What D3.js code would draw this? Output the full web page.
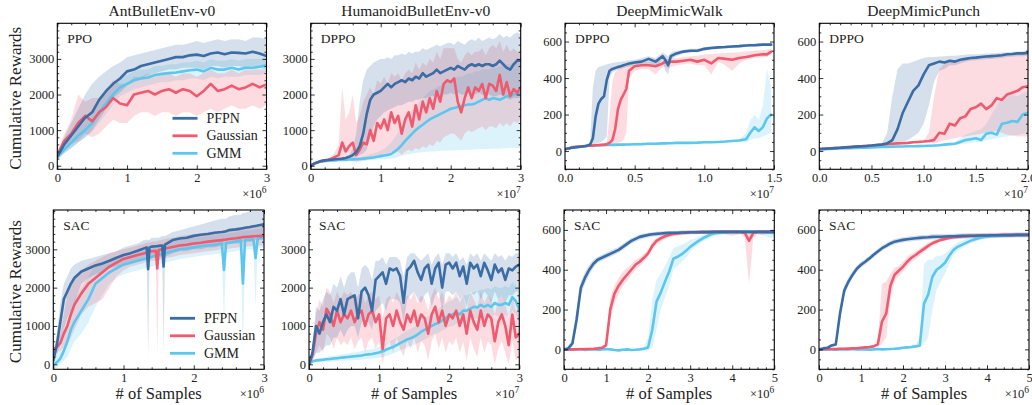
<!DOCTYPE html>
<html><head><meta charset="utf-8">
<script src="https://cdn.jsdelivr.net/npm/d3@7/dist/d3.min.js"></script>
<style>html,body{margin:0;padding:0;background:#fff;}svg{display:block;}</style>
</head><body>
<script>
// ---------------- DATA ----------------
const seriesNames = ["PFPN", "Gaussian", "GMM"];
const titles = ["AntBulletEnv-v0", "HumanoidBulletEnv-v0", "DeepMimicWalk", "DeepMimicPunch"];
const rowAlgos = [["PPO", "DPPO", "DPPO", "DPPO"], ["SAC", "SAC", "SAC", "SAC"]];
const bulletYTicks = [0, 1000, 2000, 3000];
const mimicYTicks = [0, 200, 400, 600];
const intXTicks3 = [0, 1, 2, 3];
const intXLabels3 = ["0", "1", "2", "3"];
const walkDppoXTicks = [0, 0.5, 1, 1.5];
const walkDppoXLabels = ["0.0", "0.5", "1.0", "1.5"];
const punchDppoXTicks = [0, 0.5, 1, 1.5, 2];
const punchDppoXLabels = ["0.0", "0.5", "1.0", "1.5", "2.0"];
const sacMimicXTicks = [0, 1, 2, 3, 4, 5];
const sacMimicXLabels = ["0", "1", "2", "3", "4", "5"];

// Ant PPO (x in 1e6)
const antPpoX = [0,0.1,0.2,0.3,0.4,0.5,0.6,0.7,0.8,0.9,1,1.1,1.2,1.3,1.4,1.5,1.6,1.7,1.8,1.9,2,2.1,2.2,2.3,2.4,2.5,2.6,2.7,2.8,2.9,3];
const antPpoPfpn = [250,600,850,1100,1350,1500,1850,2100,2300,2450,2650,2700,2800,2850,2900,2950,3000,3050,3050,3100,3120,3080,3150,3180,3130,3180,3170,3150,3200,3150,3080];
const antPpoPfpnLo = [150,350,500,650,800,1000,1300,1600,1900,2050,2250,2350,2450,2550,2600,2650,2700,2700,2750,2750,2750,2700,2800,2800,2750,2800,2800,2750,2800,2750,2700];
const antPpoPfpnHi = [350,800,1200,1600,2000,2300,2500,2650,2800,2900,3050,3100,3150,3200,3250,3300,3350,3400,3400,3450,3500,3450,3500,3550,3500,3550,3550,3500,3600,3600,3550];
const antPpoGauss = [300,700,900,1200,1400,1250,1500,1650,1900,1750,1700,2000,2050,2100,2000,2100,2150,2050,2150,2100,1950,2100,2300,2100,2150,2250,2150,2200,2300,2200,2280];
const antPpoGaussLo = [200,500,600,700,900,800,900,1100,1300,1200,1200,1400,1500,1500,1400,1500,1500,1400,1500,1500,1400,1500,1600,1500,1600,1700,1600,1600,1700,1600,1700];
const antPpoGaussHi = [400,900,1300,2000,1800,1900,1900,2100,2400,2300,2300,2500,2500,2600,2500,2600,2600,2500,2600,2600,2500,2600,2700,2600,2600,2700,2600,2700,2700,2700,2700];
const antPpoGmm = [250,450,650,850,1000,1200,1500,1750,2000,2200,2300,2400,2450,2480,2550,2580,2600,2620,2650,2680,2700,2650,2750,2700,2700,2750,2700,2750,2750,2780,2820];
const antPpoGmmLo = [200,350,500,650,800,950,1200,1450,1700,1950,2050,2150,2200,2250,2300,2350,2350,2400,2400,2450,2450,2400,2500,2450,2500,2500,2500,2550,2550,2550,2600];
const antPpoGmmHi = [300,550,800,1050,1250,1500,1800,2050,2300,2450,2550,2650,2700,2700,2800,2800,2850,2850,2900,2900,2950,2900,3000,2950,2950,3000,2950,3000,3000,3000,3050];

// Humanoid DPPO (x in 1e7)
const humX = [0,0.05,0.1,0.15,0.2,0.25,0.3,0.35,0.4,0.45,0.5,0.55,0.6,0.65,0.7,0.75,0.8,0.85,0.9,0.95,1,1.05,1.1,1.15,1.2,1.25,1.3,1.35,1.4,1.45,1.5,1.55,1.6,1.65,1.7,1.75,1.8,1.85,1.9,1.95,2,2.05,2.1,2.15,2.2,2.25,2.3,2.35,2.4,2.45,2.5,2.55,2.6,2.65,2.7,2.75,2.8,2.85,2.9,2.95,3];
const humDppoPfpn = [0,60,100,130,150,160,170,180,190,200,220,250,300,380,550,900,1450,1850,2000,2050,2100,2200,2300,2200,2300,2350,2400,2350,2450,2400,2500,2450,2600,2500,2550,2600,2700,2600,2650,2700,2750,2700,2800,2750,2700,2800,2850,2800,2850,2800,2850,2850,2800,2850,2950,2850,2750,2700,2850,2950,2950];
const humDppoPfpnLo = [0,40,80,110,130,140,150,160,170,180,190,200,220,250,300,350,450,800,1100,1300,1400,1500,1550,1600,1650,1700,1700,1750,1800,1800,1850,1850,1900,1900,1950,1950,2000,1950,2000,2000,2050,2000,2050,2000,2000,2050,2050,2000,2050,2000,2000,2000,1950,1950,2000,1950,1900,1850,1900,1900,1900];
const humDppoPfpnHi = [0,80,120,150,170,180,190,200,210,220,250,300,500,900,1800,2400,2700,2800,2900,2950,3000,3000,3050,3000,3100,3100,3150,3100,3200,3150,3200,3200,3300,3250,3300,3350,3400,3350,3400,3450,3450,3400,3500,3450,3400,3500,3550,3500,3600,3500,3550,3600,3550,3600,3700,3600,3650,3600,3700,3750,3700];
const humDppoGauss = [0,60,100,130,150,170,200,250,300,650,400,550,650,300,450,650,600,1000,700,1200,1050,1300,1000,1500,1200,1400,900,1300,1500,1100,1700,1300,1800,1500,1900,1600,2100,1800,2300,2400,2350,2450,1800,1500,1900,2200,1900,2200,2100,2300,1900,2300,2250,2100,2550,2000,2350,1950,2150,2050,2200];
const humDppoGaussLo = [0,40,80,110,130,140,150,150,180,200,100,150,120,100,120,150,150,250,200,300,250,350,300,400,350,400,300,400,450,400,500,450,550,500,600,550,700,650,800,850,900,900,800,700,900,1000,950,1000,1050,1100,1000,1100,1100,1050,1200,1100,1200,1100,1250,1200,1300];
const humDppoGaussHi = [0,80,120,150,170,200,250,400,600,2200,1300,1500,2000,1200,1400,1800,2000,2200,2000,2400,2300,2500,2300,2600,2500,2600,2400,2600,2700,2600,2900,2700,2900,2800,3000,2900,3200,3000,3300,3300,3300,3300,3000,2900,3100,3200,3100,3200,3200,3300,3100,3300,3400,3300,3500,3200,3400,3200,3300,3200,3200];
const humDppoGmm = [0,60,100,120,130,140,150,150,160,160,170,175,180,185,190,200,210,220,230,250,270,290,300,330,400,480,580,700,800,900,1000,1080,1150,1230,1300,1350,1400,1450,1500,1550,1600,1620,1650,1680,1700,1720,1720,1750,1800,1850,1900,1850,1900,1880,1850,1900,1950,1950,2000,2030,2050];
const humDppoGmmLo = [0,40,80,100,110,120,130,130,140,140,150,150,150,150,150,150,160,160,160,170,180,180,190,200,220,250,280,300,320,340,360,370,380,390,400,400,410,420,420,430,430,430,440,440,440,450,450,460,460,470,470,470,480,480,480,490,490,500,500,500,500];
const humDppoGmmHi = [0,80,120,140,150,160,170,170,180,190,200,210,220,230,240,260,290,320,350,380,420,480,560,650,800,950,1100,1250,1400,1550,1700,1800,1900,2000,2100,2150,2200,2250,2300,2350,2400,2450,2500,2500,2550,2600,2600,2650,2650,2700,2700,2700,2750,2750,2800,2800,2850,2850,2900,2900,2900];

// DeepMimicWalk DPPO (x in 1e7)
const walkDppoX = [0,0.05,0.1,0.15,0.18,0.2,0.22,0.24,0.26,0.28,0.3,0.32,0.34,0.36,0.38,0.4,0.42,0.44,0.46,0.5,0.55,0.6,0.65,0.7,0.72,0.74,0.76,0.8,0.85,0.9,0.95,1,1.05,1.1,1.15,1.2,1.25,1.3,1.33,1.36,1.39,1.42,1.45,1.48];
const walkDppoPfpn = [10,18,22,28,35,70,190,260,285,300,390,440,450,455,460,465,470,475,480,485,490,505,490,520,500,470,520,535,545,550,550,560,565,568,570,573,575,578,580,580,582,583,583,583];
const walkDppoPfpnLo = [5,12,17,24,30,35,40,45,50,60,80,400,430,440,445,450,455,460,462,465,470,480,460,500,440,420,500,520,535,540,542,550,556,560,562,565,567,570,572,572,574,575,575,575];
const walkDppoPfpnHi = [15,24,27,32,50,350,440,460,465,470,475,480,482,485,488,490,492,495,497,500,510,520,510,540,530,520,540,550,555,560,560,570,574,576,578,581,583,586,588,588,590,591,591,591];
const walkDppoGauss = [10,20,25,28,30,30,32,33,34,35,38,45,60,120,230,280,310,340,440,465,470,470,465,480,490,480,490,490,495,500,490,500,480,510,505,500,510,515,520,525,528,530,530,545];
const walkDppoGaussLo = [5,15,20,24,26,26,28,29,30,31,33,35,40,40,45,50,60,100,400,440,450,450,420,460,460,450,460,470,475,480,470,470,420,490,470,440,480,500,505,510,512,515,515,530];
const walkDppoGaussHi = [15,25,30,32,34,34,36,37,38,40,45,200,380,430,450,460,465,470,475,485,488,490,495,500,505,505,508,510,515,520,522,530,532,535,537,540,542,545,547,550,552,553,555,560];
const walkDppoGmm = [10,20,25,28,30,30,31,31,32,32,33,33,34,34,35,35,35,36,36,37,38,40,40,42,42,43,43,45,45,45,46,48,48,50,52,55,58,65,100,130,110,130,180,200];
const walkDppoGmmLo = [5,15,20,23,25,25,26,26,27,27,28,28,29,29,30,30,30,31,31,32,33,35,35,37,37,38,38,40,40,40,41,43,43,45,47,50,52,45,60,70,70,80,90,100];
const walkDppoGmmHi = [15,25,30,33,35,35,36,36,37,37,38,38,39,39,40,40,40,41,41,42,43,45,45,47,47,48,48,50,50,50,51,53,53,55,57,60,64,100,170,200,170,250,450,350];

// DeepMimicPunch DPPO (x in 1e7)
const punchDppoX = [0,0.05,0.1,0.15,0.2,0.25,0.3,0.35,0.4,0.45,0.5,0.55,0.6,0.65,0.7,0.75,0.8,0.85,0.9,0.95,1,1.05,1.1,1.15,1.2,1.25,1.3,1.35,1.4,1.45,1.5,1.55,1.6,1.65,1.7,1.75,1.8,1.85,1.9,1.95,2];
const punchDppoPfpn = [10,12,14,16,18,20,22,24,26,28,30,33,36,42,60,120,210,270,330,360,420,470,480,490,485,495,490,500,505,510,512,515,518,520,522,525,530,532,535,535,538];
const punchDppoPfpnLo = [7,9,11,13,15,17,19,21,23,25,27,30,33,35,40,45,50,60,80,100,150,250,380,440,450,470,470,480,490,495,497,500,503,505,507,510,515,517,520,520,523];
const punchDppoPfpnHi = [13,15,17,19,21,23,25,27,29,31,33,36,40,100,300,450,480,480,490,500,510,515,515,518,520,522,522,525,528,530,530,532,534,535,537,540,542,544,546,546,548];
const punchDppoGauss = [12,13,15,17,18,20,22,24,26,28,30,33,35,38,40,42,43,45,48,50,52,55,60,100,95,150,140,180,190,230,240,260,230,250,290,280,310,320,330,350,355];
const punchDppoGaussLo = [7,8,10,12,13,15,17,19,21,23,25,28,30,33,35,37,38,40,43,45,47,48,40,50,60,65,70,75,80,85,90,95,100,105,110,100,90,85,80,80,80];
const punchDppoGaussHi = [17,18,20,22,23,25,27,29,31,33,35,38,40,43,45,47,48,50,53,55,57,100,300,450,480,490,500,505,510,515,520,522,525,528,530,532,535,537,540,540,540];
const punchDppoGmm = [10,11,12,13,14,15,16,17,18,19,20,21,22,23,24,25,25,26,26,27,28,29,30,32,35,38,40,50,60,65,70,60,95,100,90,150,155,165,160,200,210];
const punchDppoGmmLo = [6,7,8,9,10,11,12,13,14,15,16,17,18,19,20,21,21,22,22,23,24,25,26,28,30,32,34,38,40,45,50,50,60,65,70,75,80,85,90,95,100];
const punchDppoGmmHi = [14,15,16,17,18,19,20,21,22,23,24,25,26,27,28,29,29,30,30,31,32,33,34,36,40,45,50,70,90,100,110,120,150,200,250,300,300,310,300,320,330];

// Ant SAC (x in 1e6)
const antSacX = [0,0.05,0.1,0.15,0.2,0.25,0.3,0.4,0.5,0.6,0.7,0.8,0.9,1,1.1,1.2,1.3,1.33,1.35,1.37,1.4,1.46,1.48,1.5,1.55,1.57,1.59,1.7,1.8,1.9,2,2.1,2.2,2.3,2.4,2.43,2.46,2.5,2.6,2.67,2.7,2.73,2.8,2.85,2.88,2.91,3];
const antSacPfpn = [100,500,1100,1700,1900,2100,2250,2420,2500,2580,2630,2700,2780,2850,2900,2960,3030,3050,2480,3050,3070,3080,3080,3090,3100,2550,3120,3240,3280,3300,3350,3380,3400,3430,3450,3460,3470,3500,3520,3540,3550,3560,3580,3600,3610,3620,3650];
const antSacPfpnLo = [0,200,500,900,1200,1400,1600,2100,2250,2350,2400,2500,2550,2600,2650,2700,2750,2750,200,2750,2800,2800,2800,2800,2800,300,2800,2900,2950,2950,3000,3000,3050,3050,3100,3100,3100,3150,3150,3150,3200,3200,3200,3200,3250,3250,3250];
const antSacPfpnHi = [200,800,1600,2100,2300,2500,2600,2700,2750,2800,2850,2900,2950,3050,3100,3150,3250,3250,3250,3250,3300,3300,3300,3300,3350,3350,3350,3450,3500,3550,3600,3650,3700,3750,3800,3800,3800,3850,3900,3900,3950,3950,4000,4000,4000,4000,4000];
const antSacGauss = [400,450,550,800,1000,1300,1550,1850,2100,2250,2400,2550,2650,2750,2800,2850,2900,2920,2930,2940,2950,2960,2500,2980,3000,3010,3020,3060,3100,3120,3150,3170,3200,3220,3240,3250,3255,3270,3290,3310,3320,3320,3330,3340,3340,3345,3350];
const antSacGaussLo = [300,300,350,450,500,700,900,1300,1500,1600,1700,2000,2300,2450,2550,2600,2650,2670,2680,2690,2700,2700,200,2720,2750,2760,2770,2800,2850,2870,2900,2920,2950,2970,3000,3000,3000,3020,3040,3060,3070,3070,3080,3090,3090,3100,3100];
const antSacGaussHi = [500,600,800,1300,1800,2100,2300,2450,2600,2700,2800,2900,2950,3000,3050,3100,3150,3170,3180,3190,3200,3210,3210,3230,3250,3260,3270,3300,3350,3370,3400,3420,3450,3470,3480,3490,3500,3520,3540,3560,3570,3570,3580,3590,3590,3600,3600];
const antSacGmm = [0,50,150,350,600,900,1100,1400,1700,2100,2250,2400,2500,2600,2650,2700,2750,2760,2770,2780,2800,2830,2840,2850,2880,2890,2900,2950,3000,3020,3050,3080,3100,3120,3150,2460,3160,3170,3200,3230,2110,3240,3250,3260,2770,3280,3300];
const antSacGmmLo = [-100,-100,0,100,200,400,600,800,1100,1500,1800,2100,2250,2350,2400,2450,2500,2510,2520,2530,2550,2580,2590,2600,2630,2640,2650,2700,2750,2770,2800,2830,2850,2870,2900,1000,2910,2920,2950,2980,300,2990,3000,3010,1500,3030,3050];
const antSacGmmHi = [100,200,400,700,1100,1400,1700,2000,2300,2600,2600,2650,2750,2850,2900,2950,3000,3010,3020,3030,3050,3080,3090,3100,3130,3140,3150,3200,3250,3270,3300,3330,3350,3370,3400,3400,3410,3420,3450,3480,3480,3490,3500,3510,3510,3530,3550];

// Humanoid SAC (x in 1e7, same grid as humX)
const humSacPfpn = [0,300,1000,800,1100,1300,1100,1500,1400,1700,1300,1700,1750,1800,1200,1900,2000,1800,1400,2200,2300,2400,2100,2500,2450,2500,2300,1600,2450,2550,2700,2400,2200,2500,2600,2100,2500,2650,2000,2600,2650,2500,2650,2300,2550,2100,2650,2500,2600,2300,2650,2450,2200,2600,2400,2500,2200,2500,2450,2550,2600];
const humSacPfpnLo = [0,100,300,300,400,500,500,700,700,900,700,900,1000,1000,700,1100,1200,1100,900,1400,1500,1600,1400,1700,1700,1700,1600,1100,1700,1800,1900,1700,1600,1800,1900,1500,1800,1900,1400,1900,1900,1800,1900,1700,1800,1500,1900,1800,1900,1700,1900,1800,1600,1900,1700,1800,1600,1800,1800,1900,1900];
const humSacPfpnHi = [0,500,1500,1400,1700,1900,1800,2100,2000,2300,2000,2300,2400,2400,2000,2500,2600,2500,2200,2700,2700,2800,2600,2800,2800,2800,2700,2300,2800,2900,2900,2800,2700,2800,2900,2600,2800,2900,2600,2900,2900,2800,2900,2700,2800,2600,2900,2800,2900,2700,2900,2800,2700,2900,2800,2850,2700,2850,2800,2900,2900];
const humSacGauss = [0,250,800,1100,900,1450,1300,1000,1400,1100,1300,1200,1400,1100,1300,1400,1000,1300,1400,1100,1300,400,1200,1300,1000,1400,1100,900,1300,1100,1400,1000,1300,1200,800,1300,1500,1100,1400,1000,1300,1200,1400,1000,1300,800,1400,1100,900,1400,1000,1300,1200,600,1100,1300,1000,500,1300,700,800];
const humSacGaussLo = [0,100,300,500,300,800,700,400,700,500,600,500,700,400,600,700,300,600,700,400,600,0,500,600,300,700,400,200,600,400,700,300,600,500,100,600,800,400,700,300,600,500,700,300,600,100,700,400,200,700,300,600,500,0,400,600,300,0,600,100,200];
const humSacGaussHi = [0,400,1300,1700,1500,2000,1900,1600,1900,1700,1900,1800,1900,1700,1800,1900,1600,1800,1900,1700,1800,1200,1700,1800,1600,1900,1700,1500,1800,1700,1900,1600,1800,1700,1400,1800,2000,1700,1900,1600,1800,1700,1900,1600,1800,1400,1900,1700,1500,1900,1600,1800,1700,1300,1700,1800,1600,1200,1800,1400,1500];
const humSacGmm = [0,80,100,110,120,130,140,150,160,170,180,190,200,210,220,230,250,260,270,290,310,340,380,420,450,500,550,600,650,680,720,780,850,900,950,1000,1050,1080,1150,1200,1280,1300,1350,1300,1400,1400,1450,1500,1480,1550,1500,1550,1500,1600,1550,1550,1600,1550,1750,1650,1420];
const humSacGmmLo = [0,40,50,60,60,70,70,80,80,90,90,100,100,110,110,120,130,140,150,160,170,190,220,250,280,320,360,400,440,470,500,550,600,650,700,750,800,820,880,920,980,1000,1050,1000,1100,1100,1150,1200,1180,1250,1200,1250,1200,1300,1250,1250,1300,1250,1400,1300,1100];
const humSacGmmHi = [0,120,150,160,180,190,210,220,240,250,270,280,300,310,330,340,370,380,400,420,450,490,540,600,650,700,760,820,880,920,980,1050,1130,1200,1260,1330,1400,1450,1520,1580,1650,1680,1750,1700,1800,1800,1850,1900,1900,1950,1950,2000,1950,2050,2000,2000,2050,2000,2150,2050,1850];

// SAC DeepMimic (x in 1e6)
const sacMimicX = [0,0.1,0.2,0.3,0.4,0.5,0.6,0.7,0.8,0.9,1,1.1,1.2,1.3,1.4,1.5,1.6,1.7,1.8,1.9,2,2.1,2.2,2.3,2.4,2.5,2.6,2.7,2.8,2.9,3,3.1,3.2,3.3,3.4,3.5,3.6,3.7,3.8,3.9,4,4.1,4.2,4.3,4.4,4.5,4.6,4.7,4.8,4.9,5];
const walkSacPfpn = [0,5,30,150,310,360,400,430,450,460,470,480,490,500,515,530,545,555,565,570,575,578,580,582,584,585,586,586,587,587,588,588,588,589,589,589,590,590,590,590,590,590,590,590,590,590,590,590,590,590,590];
const walkSacPfpnLo = [-5,0,15,110,270,330,375,410,435,445,455,465,475,485,500,515,530,540,550,557,562,566,568,571,573,575,576,576,577,577,578,578,578,579,579,579,580,580,580,580,580,580,580,580,580,580,580,580,580,580,580];
const walkSacPfpnHi = [5,15,50,200,340,390,425,450,465,475,485,495,505,515,530,545,558,568,578,582,586,589,591,593,595,595,596,596,597,597,598,598,598,599,599,599,600,600,600,600,600,600,600,600,600,600,600,600,600,600,600];
const walkSacGauss = [0,0,0,1,1,2,2,3,5,8,20,200,280,320,350,375,400,425,440,460,482,520,545,558,568,575,580,582,585,586,588,588,589,589,589,590,590,590,590,590,590,590,590,585,545,585,590,590,590,590,590];
const walkSacGaussLo = [-5,-5,-5,-4,-4,-3,-3,-2,0,2,10,150,230,280,320,345,375,400,420,440,465,500,528,542,553,562,568,571,574,576,578,578,579,579,579,580,580,580,580,575,570,575,580,560,330,560,580,575,578,580,578];
const walkSacGaussHi = [5,5,5,6,6,7,7,8,10,15,35,260,320,360,390,410,425,450,460,480,500,540,560,572,582,588,592,594,596,597,598,598,599,599,599,600,600,600,600,600,600,600,600,600,600,600,600,600,600,600,600];
const walkSacGmm = [0,0,-2,0,2,-3,0,1,-2,0,2,0,-3,-5,-2,0,-3,-2,0,3,10,100,240,285,340,390,455,465,478,495,515,530,545,558,568,578,583,585,587,588,589,589,590,590,590,590,590,590,588,586,585];
const walkSacGmmLo = [-5,-5,-7,-5,-3,-8,-5,-4,-7,-5,-3,-5,-8,-10,-7,-5,-8,-7,-5,-5,-5,10,100,200,260,320,400,420,440,460,490,510,525,540,552,562,570,575,577,578,579,579,580,580,580,580,580,575,570,560,565];
const walkSacGmmHi = [5,5,3,5,7,2,5,6,3,5,7,5,2,0,3,5,2,3,5,15,60,250,350,380,420,460,510,515,525,535,550,555,565,575,582,590,595,597,598,599,599,599,600,600,600,600,600,600,598,596,595];
const punchSacPfpn = [0,5,8,20,25,180,295,340,375,405,425,440,457,475,492,508,520,532,541,546,550,553,556,558,560,562,563,565,566,566,567,568,568,569,570,570,571,571,572,572,572,573,573,573,574,574,574,575,575,575,575];
const punchSacPfpnLo = [-5,0,2,12,17,150,270,320,358,390,410,426,444,462,479,495,507,519,528,533,537,540,543,545,547,549,550,552,553,553,554,555,555,556,557,557,558,558,559,559,559,560,560,560,561,561,561,562,562,562,562];
const punchSacPfpnHi = [5,10,14,28,33,210,320,360,392,420,440,454,470,488,505,521,533,545,554,559,563,566,569,571,573,575,576,578,579,579,580,581,581,582,583,583,584,584,585,585,585,586,586,586,587,587,587,588,588,588,588];
const punchSacGauss = [0,1,1,2,2,3,3,4,5,6,8,10,12,15,25,140,180,320,375,395,415,440,460,474,490,505,520,533,542,550,555,560,563,565,567,568,570,570,571,572,572,573,573,574,574,574,575,575,575,575,575];
const punchSacGaussLo = [-5,-4,-4,-3,-3,-2,-2,-1,0,1,3,5,7,10,15,30,60,250,340,370,390,415,440,455,470,488,505,520,530,540,545,550,553,555,557,558,560,560,561,562,562,563,563,564,564,564,565,565,565,565,565];
const punchSacGaussHi = [5,6,6,7,7,8,8,9,10,11,13,15,17,20,40,330,340,380,410,420,440,465,480,492,508,522,535,546,555,560,565,570,573,575,577,578,580,580,581,582,582,583,583,584,584,584,585,585,585,585,585];
const punchSacGmm = [0,0,1,0,-2,0,1,0,2,0,1,0,-1,0,2,0,1,2,3,5,8,10,12,15,20,230,275,365,400,415,435,470,499,515,525,535,545,552,558,563,566,568,570,571,572,573,573,574,574,575,575];
const punchSacGmmLo = [-5,-5,-4,-5,-7,-5,-4,-5,-3,-5,-4,-5,-6,-5,-3,-5,-4,-3,-2,0,3,5,5,8,10,30,60,200,300,340,380,430,470,495,508,520,532,540,547,553,556,558,560,561,562,563,563,564,564,565,565];
const punchSacGmmHi = [5,5,6,5,3,5,6,5,7,5,6,5,4,5,7,5,6,7,8,10,13,15,19,25,60,430,450,450,470,470,480,500,520,535,545,553,560,565,570,573,576,578,580,581,582,583,583,584,584,585,585];

// ---------------- STYLE / LAYOUT ----------------
const colors = ["#3A6CA5", "#EF5A6E", "#5BC6EE"];
const W = 1032, H = 405;
const serif = "Liberation Serif, DejaVu Serif, serif";

const panels = [
  {row:0, col:0, box:{l:57.3, r:266.5, t:23.3, b:169.3}, X:antPpoX, exp:"6", xDomain:[0,3], xTicks:intXTicks3, xLabels:intXLabels3, yDomain:[-100,4000], yTicks:bulletYTicks, legend:true,
   s:[[antPpoPfpn,antPpoPfpnLo,antPpoPfpnHi],[antPpoGauss,antPpoGaussLo,antPpoGaussHi],[antPpoGmm,antPpoGmmLo,antPpoGmmHi]]},
  {row:0, col:1, box:{l:310.7, r:520.7, t:23.3, b:169.3}, X:humX, exp:"7", xDomain:[0,3], xTicks:intXTicks3, xLabels:intXLabels3, yDomain:[-100,4000], yTicks:bulletYTicks,
   s:[[humDppoPfpn,humDppoPfpnLo,humDppoPfpnHi],[humDppoGauss,humDppoGaussLo,humDppoGaussHi],[humDppoGmm,humDppoGmmLo,humDppoGmmHi]]},
  {row:0, col:2, box:{l:565, r:774, t:23.3, b:169.3}, X:walkDppoX, exp:"7", xDomain:[0,1.5], xTicks:walkDppoXTicks, xLabels:walkDppoXLabels, yDomain:[-100,700], yTicks:mimicYTicks,
   s:[[walkDppoPfpn,walkDppoPfpnLo,walkDppoPfpnHi],[walkDppoGauss,walkDppoGaussLo,walkDppoGaussHi],[walkDppoGmm,walkDppoGmmLo,walkDppoGmmHi]]},
  {row:0, col:3, box:{l:819.3, r:1028, t:23.3, b:169.3}, X:punchDppoX, exp:"7", xDomain:[0,2], xTicks:punchDppoXTicks, xLabels:punchDppoXLabels, yDomain:[-100,700], yTicks:mimicYTicks,
   s:[[punchDppoPfpn,punchDppoPfpnLo,punchDppoPfpnHi],[punchDppoGauss,punchDppoGaussLo,punchDppoGaussHi],[punchDppoGmm,punchDppoGmmLo,punchDppoGmmHi]]},
  {row:1, col:0, box:{l:53.3, r:264, t:210, b:369.3}, X:antSacX, exp:"6", xDomain:[0,3], xTicks:intXTicks3, xLabels:intXLabels3, yDomain:[-130,4025], yTicks:bulletYTicks, legend:true,
   s:[[antSacPfpn,antSacPfpnLo,antSacPfpnHi],[antSacGauss,antSacGaussLo,antSacGaussHi],[antSacGmm,antSacGmmLo,antSacGmmHi]]},
  {row:1, col:1, box:{l:309, r:519.3, t:210, b:369.3}, X:humX, exp:"7", xDomain:[0,3], xTicks:intXTicks3, xLabels:intXLabels3, yDomain:[-130,4025], yTicks:bulletYTicks,
   s:[[humSacPfpn,humSacPfpnLo,humSacPfpnHi],[humSacGauss,humSacGaussLo,humSacGaussHi],[humSacGmm,humSacGmmLo,humSacGmmHi]]},
  {row:1, col:2, box:{l:564, r:774.3, t:210, b:369.3}, X:sacMimicX, exp:"6", xDomain:[0,5], xTicks:sacMimicXTicks, xLabels:sacMimicXLabels, yDomain:[-100,700], yTicks:mimicYTicks,
   s:[[walkSacPfpn,walkSacPfpnLo,walkSacPfpnHi],[walkSacGauss,walkSacGaussLo,walkSacGaussHi],[walkSacGmm,walkSacGmmLo,walkSacGmmHi]]},
  {row:1, col:3, box:{l:819, r:1029, t:210, b:369.3}, X:sacMimicX, exp:"6", xDomain:[0,5], xTicks:sacMimicXTicks, xLabels:sacMimicXLabels, yDomain:[-100,700], yTicks:mimicYTicks,
   s:[[punchSacPfpn,punchSacPfpnLo,punchSacPfpnHi],[punchSacGauss,punchSacGaussLo,punchSacGaussHi],[punchSacGmm,punchSacGmmLo,punchSacGmmHi]]}
];

const svg = d3.select("body").append("svg").attr("width", W).attr("height", H)
  .attr("font-family", serif);
const defs = svg.append("defs");

function minorVals(ticks, domain, n) {
  const step = (ticks[1] - ticks[0]) / n;
  const out = [];
  const start = Math.ceil(domain[0] / step - 1e-9);
  const end = Math.floor(domain[1] / step + 1e-9);
  for (let k = start; k <= end; k++) {
    const v = k * step;
    if (!ticks.some(t => Math.abs(t - v) < step * 1e-3)) out.push(v);
  }
  return out;
}

function styleAxis(g) {
  g.select(".domain").remove();
  g.attr("font-family", serif).attr("font-size", 12.5);
  g.selectAll("line").attr("stroke", "#000").attr("stroke-width", 0.8);
  g.selectAll("text").attr("fill", "#222");
}

panels.forEach((p, i) => {
  const b = p.box;
  const x = d3.scaleLinear().domain(p.xDomain).range([b.l, b.r]);
  const y = d3.scaleLinear().domain(p.yDomain).range([b.b, b.t]);
  const g = svg.append("g");
  const cid = "clip" + i;
  defs.append("clipPath").attr("id", cid).append("rect")
    .attr("x", b.l).attr("y", b.t).attr("width", b.r - b.l).attr("height", b.b - b.t);
  const plot = g.append("g").attr("clip-path", `url(#${cid})`);
  const order = [2, 1, 0];
  order.forEach(si => {
    const [m, lo, hi] = p.s[si];
    const area = d3.area().x((d, k) => x(p.X[k])).y0((d, k) => y(lo[k])).y1((d, k) => y(hi[k]));
    plot.append("path").datum(m).attr("d", area).attr("fill", colors[si]).attr("fill-opacity", 0.21);
  });
  order.forEach(si => {
    const m = p.s[si][0];
    const line = d3.line().x((d, k) => x(p.X[k])).y(d => y(d));
    plot.append("path").datum(m).attr("d", line).attr("fill", "none")
      .attr("stroke", colors[si]).attr("stroke-width", 2.6)
      .attr("stroke-linejoin", "round").attr("stroke-linecap", "round");
  });

  // axes (inward ticks on all sides)
  const yStep = p.yTicks[1] - p.yTicks[0];
  const yMinorN = yStep === 200 ? 4 : 5;
  const xMin = minorVals(p.xTicks, p.xDomain, 5);
  const yMin = minorVals(p.yTicks, p.yDomain, yMinorN);

  const bottom = g.append("g").attr("transform", `translate(0,${b.b})`)
    .call(d3.axisBottom(x).tickValues(p.xTicks).tickSize(-4).tickPadding(4).tickFormat((d, k) => p.xLabels[k]));
  styleAxis(bottom);
  bottom.selectAll("text").attr("dy", "0.72em");
  styleAxis(g.append("g").attr("transform", `translate(0,${b.b})`)
    .call(d3.axisBottom(x).tickValues(xMin).tickSize(-2).tickFormat("")));
  styleAxis(g.append("g").attr("transform", `translate(0,${b.t})`)
    .call(d3.axisTop(x).tickValues(p.xTicks).tickSize(-4).tickFormat("")));
  styleAxis(g.append("g").attr("transform", `translate(0,${b.t})`)
    .call(d3.axisTop(x).tickValues(xMin).tickSize(-2).tickFormat("")));
  const left = g.append("g").attr("transform", `translate(${b.l},0)`)
    .call(d3.axisLeft(y).tickValues(p.yTicks).tickSize(-4).tickPadding(3).tickFormat(d3.format("d")));
  styleAxis(left);
  styleAxis(g.append("g").attr("transform", `translate(${b.l},0)`)
    .call(d3.axisLeft(y).tickValues(yMin).tickSize(-2).tickFormat("")));
  styleAxis(g.append("g").attr("transform", `translate(${b.r},0)`)
    .call(d3.axisRight(y).tickValues(p.yTicks).tickSize(-4).tickFormat("")));
  styleAxis(g.append("g").attr("transform", `translate(${b.r},0)`)
    .call(d3.axisRight(y).tickValues(yMin).tickSize(-2).tickFormat("")));

  g.append("rect").attr("x", b.l).attr("y", b.t).attr("width", b.r - b.l).attr("height", b.b - b.t)
    .attr("fill", "none").attr("stroke", "#000").attr("stroke-width", 1.1);

  // offset text x10^n
  const off = g.append("text").attr("x", b.r).attr("y", b.b + 28.5).attr("text-anchor", "end")
    .attr("font-size", 12.5).attr("fill", "#222");
  off.append("tspan").text("×10");
  off.append("tspan").attr("dy", -4.5).attr("font-size", 9.5).text(p.exp);

  // algorithm label
  g.append("text").attr("x", b.l + 10).attr("y", b.t + 20).attr("font-size", 13.5).attr("fill", "#222")
    .text(rowAlgos[p.row][p.col]);

  if (p.row === 0) {
    g.append("text").attr("x", (b.l + b.r) / 2).attr("y", 15.5).attr("text-anchor", "middle")
      .attr("font-size", 15.5).attr("fill", "#222").text(titles[p.col]);
  } else {
    g.append("text").attr("x", (b.l + b.r) / 2).attr("y", 399).attr("text-anchor", "middle")
      .attr("font-size", 16.5).attr("fill", "#222").text("# of Samples");
  }
  if (p.col === 0) {
    g.append("text").attr("transform", `translate(15,${(b.t + b.b) / 2 + 2}) rotate(-90)`)
      .attr("text-anchor", "middle").attr("dominant-baseline", "central")
      .attr("font-size", 17).attr("fill", "#222").text("Cumulative Rewards");
  }
  if (p.legend) {
    const lg = g.append("g");
    seriesNames.forEach((n, k) => {
      const yy = b.b - 51 + k * 17.5;
      lg.append("line").attr("x1", b.r - 94).attr("x2", b.r - 69).attr("y1", yy).attr("y2", yy)
        .attr("stroke", colors[k]).attr("stroke-width", 2.8);
      lg.append("text").attr("x", b.r - 60).attr("y", yy).attr("dominant-baseline", "central")
        .attr("font-size", 14).attr("fill", "#222").text(n);
    });
  }
});
</script>
</body></html>
